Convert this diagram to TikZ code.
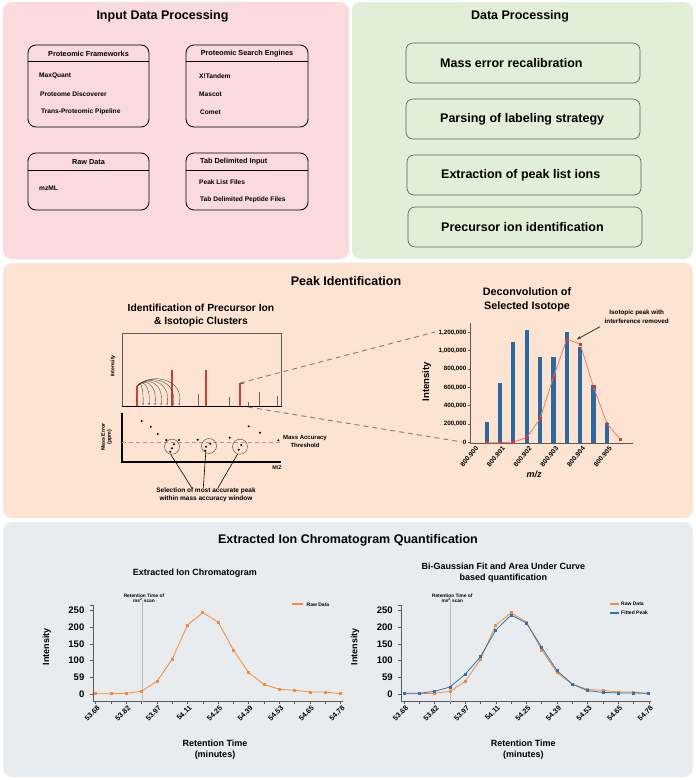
\documentclass[tikz,border=0pt]{standalone}
\usepackage{fontspec}
\setmainfont{Liberation Sans}
\usetikzlibrary{arrows.meta,calc,plotmarks}
\definecolor{pinkbg}{RGB}{250,218,221}
\definecolor{greenbg}{RGB}{226,239,216}
\definecolor{peachbg}{RGB}{253,228,210}
\definecolor{greybg}{RGB}{233,236,239}
\definecolor{orng}{RGB}{242,140,58}
\definecolor{blu}{RGB}{46,114,176}
\definecolor{barblue}{RGB}{44,105,158}
\definecolor{redpk}{RGB}{204,64,52}
\definecolor{salmon}{RGB}{234,124,114}
\definecolor{axgrey}{RGB}{90,90,90}
\definecolor{vline}{RGB}{185,188,192}
\newcommand{\xicframe}[1]{%
  \draw[axgrey, line width=0.7pt] (93.3,605) -- (93.3,701.7) -- (342.7,701.7);
  \draw[axgrey, line width=0.6pt] (90,605) -- (93.3,605);
  \foreach \v/\lab in {0/0,50/59,100/100,150/150,200/200,250/250}{
    \draw[axgrey, line width=0.6pt] (90,{694-\v/3}) -- (93.3,{694-\v/3});
    \node[ytl] (#1y\v) at (84.5,{694-\v/3}) {\lab};
  }
  \foreach \i in {0,...,16}{
    \draw[axgrey, line width=0.5pt] ({95.7+15.3*\i},701.7) -- ++(0,2.5);
  }
  \foreach \i/\lab in {0/53.68,2/53.82,4/53.97,6/54.11,8/54.25,10/54.39,12/54.53,14/54.65,16/54.78}{
    \node[xtl] (#1x\i) at ({95.7+15.3*\i+3},706.5) {\lab};
  }
  \draw[vline, line width=1.2pt] (142.2,600) -- (142.2,701.7);
  \node[rtl] (#1rt) at (144,598.3) {Retention Time of\\ms\textsuperscript{2} scan};
  \node[axl, rotate=90] (#1int) at (46.7,646.7) {Intensity};
  \node[axl] (#1ret) at (215,749.5) {Retention Time\\(minutes)};
  \draw[orng, line width=0.8pt] plot[mark=square*, mark size=1pt, mark options={fill=orng, draw=orng}] coordinates {
    (95.7,693.7) (111.0,693.7) (126.3,693.3) (141.6,691.3) (156.9,681.3) (172.2,659.3) (187.5,625) (202.8,612.7)
    (218.1,622) (233.4,650) (248.7,672.7) (264.0,684.3) (279.3,689.3) (294.6,690.3) (309.9,692) (325.2,692) (340.5,693.7)};
}
\begin{document}
\begin{tikzpicture}[x=1pt,y=-1pt,
  ptitle/.style={font=\fontsize{12.5}{15}\selectfont\bfseries, inner sep=0pt},
  lbox/.style={draw=black, line width=0.8pt, rounded corners=8pt, inner sep=0pt},
  lhdr/.style={font=\fontsize{7.3}{9}\selectfont\bfseries, inner sep=0pt},
  litem/.style={font=\fontsize{6.6}{8}\selectfont\bfseries, anchor=west, inner sep=0pt},
  stepbox/.style={draw=axgrey, line width=0.6pt, rounded corners=7pt, minimum width=234pt, minimum height=40pt, inner sep=0pt},
  steptxt/.style={font=\fontsize{12.5}{15}\selectfont\bfseries, anchor=west, inner sep=0pt},
  tiny/.style={font=\fontsize{5.3}{6}\selectfont\bfseries, align=center, inner sep=0pt},
  ytl/.style={font=\fontsize{9.5}{11}\selectfont\bfseries, anchor=east, inner sep=0pt},
  xtl/.style={font=\fontsize{7.2}{9}\selectfont\bfseries, anchor=east, rotate=45, inner sep=0pt},
  rtl/.style={font=\fontsize{4.8}{5.5}\selectfont\bfseries, align=center, inner sep=0pt},
  axl/.style={font=\fontsize{9}{11.3}\selectfont\bfseries, align=center, inner sep=0pt},
  ctitle/.style={font=\fontsize{9}{11}\selectfont\bfseries, align=center, inner sep=0pt},
  leg/.style={font=\fontsize{5}{6}\selectfont\bfseries, anchor=west, inner sep=0pt},
  arcline/.style={draw=black!75, line width=0.35pt, -{Stealth[length=1.8pt,width=1.5pt]}},
  dimline/.style={draw=black!50, line width=0.9pt, dash pattern=on 5pt off 4pt}
]
\useasboundingbox (0,0) rectangle (696,780);
\fill[white] (0,0) rectangle (696,780);
% ---------------- panels
\fill[pinkbg, rounded corners=9pt] (3,2) rectangle (349,259);
\fill[greenbg, rounded corners=9pt] (352,2) rectangle (693,259);
\fill[peachbg, rounded corners=9pt] (3,263) rectangle (693,518);
\fill[greybg, rounded corners=9pt] (3,522) rectangle (693,777);

% ---------------- Input Data Processing
\node[ptitle] (tin) at (162.5,16) {Input Data Processing};

\node[lbox, minimum width=121pt, minimum height=82pt] (pf) at (88.5,86) {};
\draw[line width=0.8pt] ($(pf.north west)+(0,17)$) -- ($(pf.north east)+(0,17)$);
\node[lhdr] (pfh) at (88.5,54) {Proteomic Frameworks};
\node[litem] (pf1) at (39,76) {MaxQuant};
\node[litem] (pf2) at (40,94) {Proteome Discoverer};
\node[litem] (pf3) at (41,112) {Trans-Proteomic Pipeline};

\node[lbox, minimum width=122pt, minimum height=82pt] (pse) at (247,86) {};
\draw[line width=0.8pt] ($(pse.north west)+(0,17)$) -- ($(pse.north east)+(0,17)$);
\node[lhdr] (pseh) at (247,54) {Proteomic Search Engines};
\node[litem] (pse1) at (199,76) {X!Tandem};
\node[litem] (pse2) at (199,94) {Mascot};
\node[litem] (pse3) at (200,112) {Comet};

\node[lbox, minimum width=121pt, minimum height=57pt] (raw) at (88.5,181.5) {};
\draw[line width=0.8pt] ($(raw.north west)+(0,18)$) -- ($(raw.north east)+(0,18)$);
\node[lhdr] (rawh) at (88.5,162) {Raw Data};
\node[litem] (raw1) at (39,188) {mzML};

\node[lbox, minimum width=122pt, minimum height=57pt] (tab) at (247,181.5) {};
\draw[line width=0.8pt] ($(tab.north west)+(0,18)$) -- ($(tab.north east)+(0,18)$);
\node[lhdr, anchor=west] (tabh) at (200,162) {Tab Delimited Input};
\node[litem] (tab1) at (199,182) {Peak List Files};
\node[litem] (tab2) at (200,200) {Tab Delimited Peptide Files};

% ---------------- Data Processing
\node[ptitle] (tdp) at (520,16) {Data Processing};
\node[stepbox] (s1) at (523,63) {};
\node[steptxt] (s1t) at (440,63) {Mass error recalibration};
\node[stepbox] (s2) at (523,119) {};
\node[steptxt] (s2t) at (440,119) {Parsing of labeling strategy};
\node[stepbox] (s3) at (524,175) {};
\node[steptxt] (s3t) at (441,175) {Extraction of peak list ions};
\node[stepbox] (s4) at (525,227) {};
\node[steptxt] (s4t) at (441,227) {Precursor ion identification};

% ---------------- Peak Identification
\node[ptitle] (tpk) at (346,281) {Peak Identification};
\node[font=\fontsize{10.3}{13}\selectfont\bfseries, align=center, inner sep=0pt] (idt) at (201,315.5) {Identification of Precursor Ion\\\& Isotopic Clusters};

% spectrum frame
\draw[axgrey, line width=0.7pt] (122,406) -- (122,333) -- (281,333) -- (281,406);
\draw[black, line width=1.1pt] (121.5,406.5) -- (281.5,406.5);
\node[tiny, rotate=90] (sint) at (113,366) {Intensity};
% grey minor peaks
\foreach \x/\t in {198/394, 229/397, 248/402, 259/392, 277/396}{
  \draw[black!60, line width=0.6pt] (\x,\t) -- (\x,406);
}
% red peaks
\draw[redpk, line width=1.1pt] (137,386) -- (137,406);
\draw[redpk, line width=1.1pt] (172,370) -- (172,406);
\draw[redpk, line width=1.1pt] (206,370) -- (206,406);
\draw[redpk, line width=1.1pt] (240,383) -- (240,406);
\coordinate (pk1) at (137.5,386);
\coordinate (pk4) at (240,383);
\coordinate (axr) at (248,407);
\draw[black!60, line width=0.6pt] (pk4) -- (244,383);
% arcs
\foreach \e in {143,149,155,161,167,173,179}{
  \pgfmathsetmacro\w{\e-138}
  \pgfmathsetmacro\ax{138+0.3*\w}
  \pgfmathsetmacro\ay{382-0.25*\w}
  \pgfmathsetmacro\bx{\e+0.15*\w}
  \pgfmathsetmacro\by{385-0.15*\w}
  \draw[arcline] (pk1) .. controls (\ax,\ay) and (\bx,\by) .. (\e,405);
}

% mass error plot
\draw[black, line width=1.1pt] (122,413) -- (122,462) -- (281,462);
\node[tiny] (mez) at (277,467.5) {M/Z};
\node[tiny, rotate=90] (mel) at (106.5,437) {Mass Error\\(ppm)};
\draw[salmon, line width=0.7pt, dash pattern=on 4pt off 3pt] (122,442) -- (281,442);
\foreach \x/\y in {141.7/421, 150.7/426.7, 157.7/434, 166.3/440, 174/444.3, 179/440, 172/448.3, 170.3/451.7,
  197.7/439.7, 210.3/443.7, 206/446.7, 205.3/450.7, 229.7/437.7, 241.3/445, 238.7/449.7, 248.7/426.3, 260/432.7, 278.3/440.3}{
  \fill[black] (\x,\y) circle (1.1pt);
}
\node[circle, draw=axgrey, line width=0.5pt, minimum size=15pt, inner sep=0pt] (c1) at (172,446.7) {};
\node[circle, draw=axgrey, line width=0.5pt, minimum size=15pt, inner sep=0pt] (c2) at (209,446) {};
\node[circle, draw=axgrey, line width=0.5pt, minimum size=15pt, inner sep=0pt] (c3) at (240,446.7) {};
\node[font=\fontsize{6}{8.5}\selectfont\bfseries, align=center, inner sep=0pt] (mat) at (305,441.5) {Mass Accuracy\\Threshold};
\node[font=\fontsize{6.5}{8}\selectfont\bfseries, align=center, inner sep=0pt] (sel) at (206,495) {Selection of most accurate peak\\within mass accuracy window};
\draw[black, line width=0.6pt] (c1.-100) -- ($(sel.north)+(-14.3,0)$);
\draw[black, line width=0.6pt] (c2.-115) -- ($(sel.north)+(-2.7,0)$);
\draw[black, line width=0.6pt] (c3.-108) -- ($(sel.north)+(12,0)$);

% deconvolution chart
\node[font=\fontsize{10.8}{14}\selectfont\bfseries, align=center, inner sep=0pt] (dct) at (527,300) {Deconvolution of\\Selected Isotope};
\coordinate (dtop) at (435,332);
\coordinate (dbot) at (462,442);
\draw[dimline] (pk4) -- (dtop);
\draw[dimline] (axr) -- (dbot);
\draw[axgrey, line width=0.7pt] (470.7,323) -- (470.7,443) -- (633,443);
\foreach \k/\lab in {0/{0},1/{200,000},2/{400,000},3/{600,000},4/{800,000},5/{1,000,000},6/{1,200,000}}{
  \draw[axgrey, line width=0.5pt] (468,{442.3-18.33*\k}) -- (470.7,{442.3-18.33*\k});
  \node[font=\fontsize{6.2}{7}\selectfont\bfseries, anchor=east, inner sep=0pt] (dy\k) at (466.5,{442.3-18.33*\k}) {\lab};
}
\foreach \t in {0,...,5}{
  \node[font=\fontsize{6.6}{7.5}\selectfont\bfseries, anchor=east, rotate=50, inner sep=0pt] (dx\t) at ({477+26.7*\t},447.5) {800.90\t};
}
\foreach \k/\top in {1/421.7, 2/382.7, 3/342.3, 4/330, 5/356.7, 6/357.3, 7/331.7, 8/347.3, 9/385, 10/422.7}{
  \fill[barblue] ({473.3+13.35*\k-2.1},\top) rectangle ({473.3+13.35*\k+2.1},443);
}
\draw[salmon, line width=0.8pt] plot[mark=square*, mark size=0.9pt, mark options={fill=redpk, draw=redpk}] coordinates {
  (486.65,442.7) (500.0,442.7) (513.35,442) (526.7,437.7) (540.05,418.7) (553.4,377.3) (566.75,339.3) (580.1,344)
  (593.45,386.7) (606.8,423.3) (620.15,439.3)};
\node[font=\fontsize{9.5}{11}\selectfont\bfseries, rotate=90, inner sep=0pt] (dint) at (426.7,381.7) {Intensity};
\node[font=\fontsize{9}{11}\selectfont\bfseries\itshape, inner sep=0pt] (dmz) at (534,474) {m/z};
\node[font=\fontsize{6.3}{8.3}\selectfont\bfseries, align=center, inner sep=0pt] (ann) at (636.7,316.8) {Isotopic peak with\\interference removed};
\coordinate (arr0) at (600,326.7);
\coordinate (arr1) at (577,339.3);
\draw[black!80, line width=0.8pt, -{Stealth[length=4pt,width=3.5pt]}] (arr0) -- (arr1);

% ---------------- Extracted Ion Chromatogram Quantification
\node[ptitle] (txic) at (348,540) {Extracted Ion Chromatogram Quantification};
\node[ctitle] (lct) at (195,572.7) {Extracted Ion Chromatogram};
\xicframe{L}
\draw[orng, line width=2.2pt] (292.3,604.3) -- (303.3,604.3);
\node[leg] (lleg) at (306.5,604.3) {Raw Data};

\node[ctitle] (rct) at (503.3,572.2) {Bi-Gaussian Fit and Area Under Curve\\based quantification};
\begin{scope}[xshift=308.3pt]
\xicframe{R}
\draw[blu, line width=0.8pt] plot[mark=square*, mark size=1pt, mark options={fill=blu, draw=blu}] coordinates {
  (95.7,693.3) (111.0,693.3) (126.3,691.3) (141.6,687) (156.9,674.3) (172.2,656.7) (187.5,630) (202.8,615)
  (218.1,623) (233.4,647.3) (248.7,670.7) (264.0,684) (279.3,690.7) (294.6,692.3) (309.9,693) (325.2,693) (340.5,693.3)};
\end{scope}
\draw[orng, line width=2.2pt] (610,604) -- (618.5,604);
\node[leg] (rleg1) at (621,604) {Raw Data};
\draw[blu, line width=2.2pt] (610,612.7) -- (618.5,612.7);
\node[leg] (rleg2) at (621,612.7) {Fitted Peak};
\end{tikzpicture}
\end{document}
